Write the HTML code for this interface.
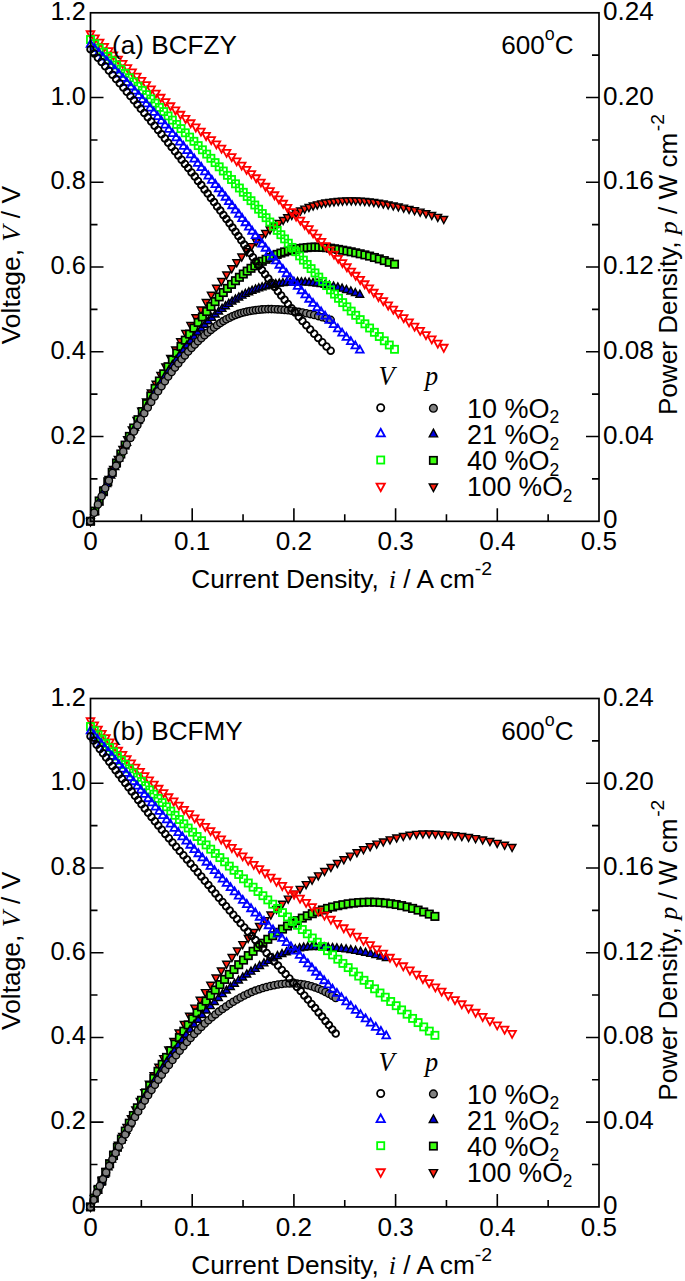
<!DOCTYPE html>
<html><head><meta charset="utf-8"><title>IV IP curves</title>
<style>html,body{margin:0;padding:0;background:#fff}svg{display:block}text{font-family:"Liberation Sans",sans-serif;fill:#000}.it{font-family:"Liberation Serif",serif;font-style:italic}</style></head><body>
<svg width="685" height="1281" viewBox="0 0 685 1281">
<rect x="0" y="0" width="685" height="1281" fill="#fff"/>
<defs>
<circle id="c" r="3.35"/>
<circle id="cf" r="3.6"/>
<path id="u" d="M0,-4.72L3.85,2.36L-3.85,2.36Z"/>
<path id="d" d="M0,4.72L3.85,-2.36L-3.85,-2.36Z"/>
<rect id="s" x="-3.55" y="-3.55" width="7.1" height="7.1"/>
<rect id="sf" x="-3.7" y="-3.7" width="7.4" height="7.4"/>
</defs>
<g id="panel0">
<g fill="#ff2010" stroke="#000" stroke-width="1.4">
<use href="#d" x="90.5" y="521.3"/><use href="#d" x="95.0" y="510.5"/><use href="#d" x="99.6" y="499.8"/><use href="#d" x="104.2" y="489.3"/><use href="#d" x="108.8" y="478.9"/><use href="#d" x="113.4" y="468.7"/><use href="#d" x="118.1" y="458.7"/><use href="#d" x="122.7" y="448.7"/><use href="#d" x="127.4" y="439.0"/><use href="#d" x="132.1" y="429.4"/><use href="#d" x="136.8" y="419.9"/><use href="#d" x="141.5" y="410.6"/><use href="#d" x="146.3" y="401.4"/><use href="#d" x="151.1" y="392.4"/><use href="#d" x="155.9" y="383.6"/><use href="#d" x="160.7" y="374.9"/><use href="#d" x="165.6" y="366.3"/><use href="#d" x="170.5" y="357.8"/><use href="#d" x="175.5" y="349.4"/><use href="#d" x="180.5" y="341.1"/><use href="#d" x="185.6" y="332.9"/><use href="#d" x="190.7" y="324.9"/><use href="#d" x="195.8" y="317.1"/><use href="#d" x="200.9" y="309.4"/><use href="#d" x="206.1" y="301.9"/><use href="#d" x="211.2" y="294.6"/><use href="#d" x="216.4" y="287.6"/><use href="#d" x="221.5" y="280.8"/><use href="#d" x="226.6" y="274.3"/><use href="#d" x="231.7" y="268.1"/><use href="#d" x="236.7" y="262.1"/><use href="#d" x="241.7" y="256.4"/><use href="#d" x="246.6" y="251.1"/><use href="#d" x="251.4" y="246.0"/><use href="#d" x="256.2" y="241.3"/><use href="#d" x="260.9" y="237.0"/><use href="#d" x="265.5" y="232.9"/><use href="#d" x="270.0" y="229.2"/><use href="#d" x="274.5" y="225.8"/><use href="#d" x="278.9" y="222.7"/><use href="#d" x="283.2" y="219.8"/><use href="#d" x="287.5" y="217.1"/><use href="#d" x="291.8" y="214.7"/><use href="#d" x="296.1" y="212.5"/><use href="#d" x="300.4" y="210.4"/><use href="#d" x="304.7" y="208.5"/><use href="#d" x="308.9" y="206.9"/><use href="#d" x="313.1" y="205.4"/><use href="#d" x="317.3" y="204.2"/><use href="#d" x="321.5" y="203.2"/><use href="#d" x="325.6" y="202.4"/><use href="#d" x="329.8" y="201.8"/><use href="#d" x="334.0" y="201.3"/><use href="#d" x="338.2" y="200.9"/><use href="#d" x="342.5" y="200.5"/><use href="#d" x="346.9" y="200.3"/><use href="#d" x="351.3" y="200.2"/><use href="#d" x="355.7" y="200.3"/><use href="#d" x="360.2" y="200.5"/><use href="#d" x="364.7" y="200.9"/><use href="#d" x="369.2" y="201.3"/><use href="#d" x="373.8" y="201.9"/><use href="#d" x="378.5" y="202.6"/><use href="#d" x="383.3" y="203.4"/><use href="#d" x="388.2" y="204.3"/><use href="#d" x="393.3" y="205.3"/><use href="#d" x="398.4" y="206.3"/><use href="#d" x="403.7" y="207.5"/><use href="#d" x="409.1" y="208.7"/><use href="#d" x="414.6" y="210.0"/><use href="#d" x="420.2" y="211.5"/><use href="#d" x="426.0" y="213.1"/><use href="#d" x="431.8" y="214.8"/><use href="#d" x="437.8" y="216.7"/><use href="#d" x="443.8" y="218.8"/>
</g>
<g fill="#3cff0e" stroke="#000" stroke-width="1.7">
<use href="#sf" x="90.5" y="521.3"/><use href="#sf" x="94.8" y="511.1"/><use href="#sf" x="99.2" y="501.1"/><use href="#sf" x="103.5" y="491.3"/><use href="#sf" x="107.8" y="481.7"/><use href="#sf" x="112.2" y="472.3"/><use href="#sf" x="116.5" y="463.0"/><use href="#sf" x="120.8" y="454.0"/><use href="#sf" x="125.1" y="445.1"/><use href="#sf" x="129.4" y="436.4"/><use href="#sf" x="133.7" y="428.0"/><use href="#sf" x="138.0" y="419.7"/><use href="#sf" x="142.3" y="411.6"/><use href="#sf" x="146.6" y="403.7"/><use href="#sf" x="150.8" y="396.0"/><use href="#sf" x="155.1" y="388.4"/><use href="#sf" x="159.4" y="381.0"/><use href="#sf" x="163.7" y="373.8"/><use href="#sf" x="168.1" y="366.7"/><use href="#sf" x="172.4" y="359.8"/><use href="#sf" x="176.7" y="353.1"/><use href="#sf" x="181.0" y="346.5"/><use href="#sf" x="185.3" y="340.2"/><use href="#sf" x="189.6" y="334.1"/><use href="#sf" x="193.9" y="328.1"/><use href="#sf" x="198.2" y="322.4"/><use href="#sf" x="202.4" y="316.9"/><use href="#sf" x="206.7" y="311.5"/><use href="#sf" x="210.9" y="306.5"/><use href="#sf" x="215.1" y="301.6"/><use href="#sf" x="219.2" y="296.9"/><use href="#sf" x="223.3" y="292.5"/><use href="#sf" x="227.4" y="288.4"/><use href="#sf" x="231.5" y="284.4"/><use href="#sf" x="235.5" y="280.7"/><use href="#sf" x="239.4" y="277.3"/><use href="#sf" x="243.3" y="274.0"/><use href="#sf" x="247.2" y="271.1"/><use href="#sf" x="251.0" y="268.3"/><use href="#sf" x="254.8" y="265.8"/><use href="#sf" x="258.6" y="263.4"/><use href="#sf" x="262.3" y="261.3"/><use href="#sf" x="266.1" y="259.3"/><use href="#sf" x="269.8" y="257.5"/><use href="#sf" x="273.5" y="255.9"/><use href="#sf" x="277.2" y="254.4"/><use href="#sf" x="280.9" y="253.1"/><use href="#sf" x="284.6" y="251.9"/><use href="#sf" x="288.3" y="250.8"/><use href="#sf" x="292.0" y="249.9"/><use href="#sf" x="295.8" y="249.2"/><use href="#sf" x="299.6" y="248.5"/><use href="#sf" x="303.4" y="248.0"/><use href="#sf" x="307.2" y="247.6"/><use href="#sf" x="311.1" y="247.2"/><use href="#sf" x="315.0" y="247.1"/><use href="#sf" x="318.8" y="247.2"/><use href="#sf" x="322.7" y="247.4"/><use href="#sf" x="326.6" y="247.7"/><use href="#sf" x="330.5" y="248.2"/><use href="#sf" x="334.5" y="248.8"/><use href="#sf" x="338.5" y="249.4"/><use href="#sf" x="342.7" y="250.2"/><use href="#sf" x="346.9" y="251.0"/><use href="#sf" x="351.2" y="251.8"/><use href="#sf" x="355.7" y="252.8"/><use href="#sf" x="360.2" y="253.8"/><use href="#sf" x="364.9" y="254.9"/><use href="#sf" x="369.6" y="256.1"/><use href="#sf" x="374.4" y="257.5"/><use href="#sf" x="379.3" y="258.9"/><use href="#sf" x="384.3" y="260.6"/><use href="#sf" x="389.3" y="262.3"/><use href="#sf" x="394.5" y="264.2"/>
</g>
<g fill="#0000dd" stroke="#000" stroke-width="1.4">
<use href="#u" x="90.5" y="521.3"/><use href="#u" x="94.6" y="511.7"/><use href="#u" x="98.7" y="502.4"/><use href="#u" x="102.8" y="493.2"/><use href="#u" x="106.9" y="484.3"/><use href="#u" x="110.9" y="475.6"/><use href="#u" x="114.9" y="467.1"/><use href="#u" x="118.9" y="458.8"/><use href="#u" x="122.9" y="450.8"/><use href="#u" x="126.8" y="443.0"/><use href="#u" x="130.8" y="435.3"/><use href="#u" x="134.7" y="428.0"/><use href="#u" x="138.5" y="420.8"/><use href="#u" x="142.3" y="413.9"/><use href="#u" x="146.2" y="407.1"/><use href="#u" x="150.0" y="400.6"/><use href="#u" x="153.7" y="394.2"/><use href="#u" x="157.5" y="388.0"/><use href="#u" x="161.2" y="382.1"/><use href="#u" x="165.0" y="376.3"/><use href="#u" x="168.7" y="370.7"/><use href="#u" x="172.4" y="365.3"/><use href="#u" x="176.1" y="360.1"/><use href="#u" x="179.7" y="355.0"/><use href="#u" x="183.4" y="350.2"/><use href="#u" x="187.0" y="345.5"/><use href="#u" x="190.6" y="341.1"/><use href="#u" x="194.2" y="336.8"/><use href="#u" x="197.7" y="332.6"/><use href="#u" x="201.3" y="328.7"/><use href="#u" x="204.8" y="324.9"/><use href="#u" x="208.3" y="321.4"/><use href="#u" x="211.8" y="318.0"/><use href="#u" x="215.3" y="314.7"/><use href="#u" x="218.7" y="311.7"/><use href="#u" x="222.1" y="309.0"/><use href="#u" x="225.5" y="306.4"/><use href="#u" x="228.8" y="304.0"/><use href="#u" x="232.1" y="301.7"/><use href="#u" x="235.4" y="299.6"/><use href="#u" x="238.8" y="297.6"/><use href="#u" x="242.1" y="295.8"/><use href="#u" x="245.4" y="294.0"/><use href="#u" x="248.8" y="292.4"/><use href="#u" x="252.1" y="290.9"/><use href="#u" x="255.5" y="289.6"/><use href="#u" x="258.8" y="288.5"/><use href="#u" x="262.1" y="287.4"/><use href="#u" x="265.5" y="286.5"/><use href="#u" x="268.9" y="285.7"/><use href="#u" x="272.3" y="285.0"/><use href="#u" x="275.8" y="284.3"/><use href="#u" x="279.3" y="283.8"/><use href="#u" x="282.9" y="283.3"/><use href="#u" x="286.5" y="282.9"/><use href="#u" x="290.2" y="282.6"/><use href="#u" x="293.9" y="282.4"/><use href="#u" x="297.6" y="282.3"/><use href="#u" x="301.4" y="282.4"/><use href="#u" x="305.2" y="282.5"/><use href="#u" x="309.1" y="282.8"/><use href="#u" x="313.0" y="283.1"/><use href="#u" x="317.0" y="283.6"/><use href="#u" x="321.1" y="284.2"/><use href="#u" x="325.1" y="284.9"/><use href="#u" x="329.3" y="285.7"/><use href="#u" x="333.5" y="286.6"/><use href="#u" x="337.8" y="287.6"/><use href="#u" x="342.1" y="288.8"/><use href="#u" x="346.4" y="290.1"/><use href="#u" x="350.8" y="291.6"/><use href="#u" x="355.3" y="293.2"/><use href="#u" x="359.8" y="294.9"/>
</g>
<g fill="#808080" stroke="#000" stroke-width="1.35">
<use href="#cf" x="90.5" y="521.3"/><use href="#cf" x="94.2" y="512.8"/><use href="#cf" x="97.9" y="504.4"/><use href="#cf" x="101.6" y="496.3"/><use href="#cf" x="105.2" y="488.3"/><use href="#cf" x="108.9" y="480.6"/><use href="#cf" x="112.5" y="473.0"/><use href="#cf" x="116.1" y="465.6"/><use href="#cf" x="119.7" y="458.4"/><use href="#cf" x="123.3" y="451.4"/><use href="#cf" x="126.8" y="444.5"/><use href="#cf" x="130.4" y="437.9"/><use href="#cf" x="133.9" y="431.5"/><use href="#cf" x="137.4" y="425.2"/><use href="#cf" x="140.8" y="419.2"/><use href="#cf" x="144.3" y="413.3"/><use href="#cf" x="147.8" y="407.5"/><use href="#cf" x="151.2" y="401.9"/><use href="#cf" x="154.6" y="396.5"/><use href="#cf" x="158.1" y="391.3"/><use href="#cf" x="161.5" y="386.2"/><use href="#cf" x="164.9" y="381.3"/><use href="#cf" x="168.2" y="376.6"/><use href="#cf" x="171.6" y="372.0"/><use href="#cf" x="175.0" y="367.6"/><use href="#cf" x="178.3" y="363.4"/><use href="#cf" x="181.6" y="359.3"/><use href="#cf" x="184.9" y="355.4"/><use href="#cf" x="188.2" y="351.6"/><use href="#cf" x="191.5" y="348.0"/><use href="#cf" x="194.8" y="344.6"/><use href="#cf" x="198.0" y="341.3"/><use href="#cf" x="201.3" y="338.2"/><use href="#cf" x="204.5" y="335.3"/><use href="#cf" x="207.7" y="332.5"/><use href="#cf" x="210.9" y="329.9"/><use href="#cf" x="214.0" y="327.5"/><use href="#cf" x="217.1" y="325.2"/><use href="#cf" x="220.3" y="323.1"/><use href="#cf" x="223.4" y="321.1"/><use href="#cf" x="226.4" y="319.3"/><use href="#cf" x="229.5" y="317.7"/><use href="#cf" x="232.5" y="316.2"/><use href="#cf" x="235.5" y="315.0"/><use href="#cf" x="238.4" y="313.9"/><use href="#cf" x="241.3" y="313.0"/><use href="#cf" x="244.2" y="312.2"/><use href="#cf" x="247.1" y="311.6"/><use href="#cf" x="250.0" y="311.0"/><use href="#cf" x="252.9" y="310.5"/><use href="#cf" x="255.9" y="310.1"/><use href="#cf" x="258.9" y="309.7"/><use href="#cf" x="262.0" y="309.4"/><use href="#cf" x="265.1" y="309.2"/><use href="#cf" x="268.3" y="309.1"/><use href="#cf" x="271.5" y="309.1"/><use href="#cf" x="274.7" y="309.2"/><use href="#cf" x="277.9" y="309.4"/><use href="#cf" x="281.2" y="309.6"/><use href="#cf" x="284.6" y="309.9"/><use href="#cf" x="288.0" y="310.3"/><use href="#cf" x="291.5" y="310.8"/><use href="#cf" x="295.1" y="311.3"/><use href="#cf" x="298.8" y="311.9"/><use href="#cf" x="302.5" y="312.5"/><use href="#cf" x="306.3" y="313.3"/><use href="#cf" x="310.2" y="314.1"/><use href="#cf" x="314.2" y="315.0"/><use href="#cf" x="318.2" y="316.1"/><use href="#cf" x="322.3" y="317.2"/><use href="#cf" x="326.5" y="318.5"/><use href="#cf" x="330.7" y="319.9"/>
</g>
<g fill="none" stroke="#ff0000" stroke-width="1.8">
<use href="#d" x="90.5" y="33.6"/><use href="#d" x="95.0" y="37.8"/><use href="#d" x="99.6" y="42.0"/><use href="#d" x="104.2" y="46.3"/><use href="#d" x="108.8" y="50.5"/><use href="#d" x="113.4" y="54.8"/><use href="#d" x="118.1" y="59.0"/><use href="#d" x="122.7" y="63.2"/><use href="#d" x="127.4" y="67.5"/><use href="#d" x="132.1" y="71.7"/><use href="#d" x="136.8" y="75.9"/><use href="#d" x="141.5" y="80.2"/><use href="#d" x="146.3" y="84.4"/><use href="#d" x="151.1" y="88.7"/><use href="#d" x="155.9" y="92.9"/><use href="#d" x="160.7" y="97.1"/><use href="#d" x="165.6" y="101.4"/><use href="#d" x="170.5" y="105.6"/><use href="#d" x="175.5" y="109.8"/><use href="#d" x="180.5" y="114.1"/><use href="#d" x="185.6" y="118.3"/><use href="#d" x="190.7" y="122.6"/><use href="#d" x="195.8" y="126.8"/><use href="#d" x="200.9" y="131.0"/><use href="#d" x="206.1" y="135.3"/><use href="#d" x="211.2" y="139.5"/><use href="#d" x="216.4" y="143.7"/><use href="#d" x="221.5" y="148.0"/><use href="#d" x="226.6" y="152.2"/><use href="#d" x="231.7" y="156.5"/><use href="#d" x="236.7" y="160.7"/><use href="#d" x="241.7" y="164.9"/><use href="#d" x="246.6" y="169.2"/><use href="#d" x="251.4" y="173.4"/><use href="#d" x="256.2" y="177.6"/><use href="#d" x="260.9" y="181.9"/><use href="#d" x="265.5" y="186.1"/><use href="#d" x="270.0" y="190.4"/><use href="#d" x="274.5" y="194.6"/><use href="#d" x="278.9" y="198.8"/><use href="#d" x="283.2" y="203.1"/><use href="#d" x="287.5" y="207.3"/><use href="#d" x="291.8" y="211.5"/><use href="#d" x="296.1" y="215.8"/><use href="#d" x="300.4" y="220.0"/><use href="#d" x="304.7" y="224.3"/><use href="#d" x="308.9" y="228.5"/><use href="#d" x="313.1" y="232.7"/><use href="#d" x="317.3" y="237.0"/><use href="#d" x="321.5" y="241.2"/><use href="#d" x="325.6" y="245.4"/><use href="#d" x="329.8" y="249.7"/><use href="#d" x="334.0" y="253.9"/><use href="#d" x="338.2" y="258.2"/><use href="#d" x="342.5" y="262.4"/><use href="#d" x="346.9" y="266.6"/><use href="#d" x="351.3" y="270.9"/><use href="#d" x="355.7" y="275.1"/><use href="#d" x="360.2" y="279.3"/><use href="#d" x="364.7" y="283.6"/><use href="#d" x="369.2" y="287.8"/><use href="#d" x="373.8" y="292.1"/><use href="#d" x="378.5" y="296.3"/><use href="#d" x="383.3" y="300.5"/><use href="#d" x="388.2" y="304.8"/><use href="#d" x="393.3" y="309.0"/><use href="#d" x="398.4" y="313.2"/><use href="#d" x="403.7" y="317.5"/><use href="#d" x="409.1" y="321.7"/><use href="#d" x="414.6" y="326.0"/><use href="#d" x="420.2" y="330.2"/><use href="#d" x="426.0" y="334.4"/><use href="#d" x="431.8" y="338.7"/><use href="#d" x="437.8" y="342.9"/><use href="#d" x="443.8" y="347.1"/>
</g>
<g fill="none" stroke="#00ff00" stroke-width="1.8">
<use href="#s" x="90.5" y="39.5"/><use href="#s" x="94.8" y="43.7"/><use href="#s" x="99.2" y="48.0"/><use href="#s" x="103.5" y="52.2"/><use href="#s" x="107.8" y="56.5"/><use href="#s" x="112.2" y="60.7"/><use href="#s" x="116.5" y="65.0"/><use href="#s" x="120.8" y="69.2"/><use href="#s" x="125.1" y="73.4"/><use href="#s" x="129.4" y="77.7"/><use href="#s" x="133.7" y="81.9"/><use href="#s" x="138.0" y="86.2"/><use href="#s" x="142.3" y="90.4"/><use href="#s" x="146.6" y="94.7"/><use href="#s" x="150.8" y="98.9"/><use href="#s" x="155.1" y="103.1"/><use href="#s" x="159.4" y="107.4"/><use href="#s" x="163.7" y="111.6"/><use href="#s" x="168.1" y="115.9"/><use href="#s" x="172.4" y="120.1"/><use href="#s" x="176.7" y="124.4"/><use href="#s" x="181.0" y="128.6"/><use href="#s" x="185.3" y="132.8"/><use href="#s" x="189.6" y="137.1"/><use href="#s" x="193.9" y="141.3"/><use href="#s" x="198.2" y="145.6"/><use href="#s" x="202.4" y="149.8"/><use href="#s" x="206.7" y="154.1"/><use href="#s" x="210.9" y="158.3"/><use href="#s" x="215.1" y="162.6"/><use href="#s" x="219.2" y="166.8"/><use href="#s" x="223.3" y="171.0"/><use href="#s" x="227.4" y="175.3"/><use href="#s" x="231.5" y="179.5"/><use href="#s" x="235.5" y="183.8"/><use href="#s" x="239.4" y="188.0"/><use href="#s" x="243.3" y="192.3"/><use href="#s" x="247.2" y="196.5"/><use href="#s" x="251.0" y="200.7"/><use href="#s" x="254.8" y="205.0"/><use href="#s" x="258.6" y="209.2"/><use href="#s" x="262.3" y="213.5"/><use href="#s" x="266.1" y="217.7"/><use href="#s" x="269.8" y="222.0"/><use href="#s" x="273.5" y="226.2"/><use href="#s" x="277.2" y="230.4"/><use href="#s" x="280.9" y="234.7"/><use href="#s" x="284.6" y="238.9"/><use href="#s" x="288.3" y="243.2"/><use href="#s" x="292.0" y="247.4"/><use href="#s" x="295.8" y="251.7"/><use href="#s" x="299.6" y="255.9"/><use href="#s" x="303.4" y="260.1"/><use href="#s" x="307.2" y="264.4"/><use href="#s" x="311.1" y="268.6"/><use href="#s" x="315.0" y="272.9"/><use href="#s" x="318.8" y="277.1"/><use href="#s" x="322.7" y="281.4"/><use href="#s" x="326.6" y="285.6"/><use href="#s" x="330.5" y="289.9"/><use href="#s" x="334.5" y="294.1"/><use href="#s" x="338.5" y="298.3"/><use href="#s" x="342.7" y="302.6"/><use href="#s" x="346.9" y="306.8"/><use href="#s" x="351.2" y="311.1"/><use href="#s" x="355.7" y="315.3"/><use href="#s" x="360.2" y="319.6"/><use href="#s" x="364.9" y="323.8"/><use href="#s" x="369.6" y="328.0"/><use href="#s" x="374.4" y="332.3"/><use href="#s" x="379.3" y="336.5"/><use href="#s" x="384.3" y="340.8"/><use href="#s" x="389.3" y="345.0"/><use href="#s" x="394.5" y="349.3"/>
</g>
<g fill="none" stroke="#0000ff" stroke-width="1.8">
<use href="#u" x="90.5" y="44.6"/><use href="#u" x="94.6" y="48.8"/><use href="#u" x="98.7" y="53.1"/><use href="#u" x="102.8" y="57.3"/><use href="#u" x="106.9" y="61.6"/><use href="#u" x="110.9" y="65.8"/><use href="#u" x="114.9" y="70.1"/><use href="#u" x="118.9" y="74.3"/><use href="#u" x="122.9" y="78.6"/><use href="#u" x="126.8" y="82.8"/><use href="#u" x="130.8" y="87.0"/><use href="#u" x="134.7" y="91.3"/><use href="#u" x="138.5" y="95.5"/><use href="#u" x="142.3" y="99.8"/><use href="#u" x="146.2" y="104.0"/><use href="#u" x="150.0" y="108.3"/><use href="#u" x="153.7" y="112.5"/><use href="#u" x="157.5" y="116.8"/><use href="#u" x="161.2" y="121.0"/><use href="#u" x="165.0" y="125.3"/><use href="#u" x="168.7" y="129.5"/><use href="#u" x="172.4" y="133.8"/><use href="#u" x="176.1" y="138.0"/><use href="#u" x="179.7" y="142.2"/><use href="#u" x="183.4" y="146.5"/><use href="#u" x="187.0" y="150.7"/><use href="#u" x="190.6" y="155.0"/><use href="#u" x="194.2" y="159.2"/><use href="#u" x="197.7" y="163.5"/><use href="#u" x="201.3" y="167.7"/><use href="#u" x="204.8" y="172.0"/><use href="#u" x="208.3" y="176.2"/><use href="#u" x="211.8" y="180.5"/><use href="#u" x="215.3" y="184.7"/><use href="#u" x="218.7" y="189.0"/><use href="#u" x="222.1" y="193.2"/><use href="#u" x="225.5" y="197.4"/><use href="#u" x="228.8" y="201.7"/><use href="#u" x="232.1" y="205.9"/><use href="#u" x="235.4" y="210.2"/><use href="#u" x="238.8" y="214.4"/><use href="#u" x="242.1" y="218.7"/><use href="#u" x="245.4" y="222.9"/><use href="#u" x="248.8" y="227.2"/><use href="#u" x="252.1" y="231.4"/><use href="#u" x="255.5" y="235.7"/><use href="#u" x="258.8" y="239.9"/><use href="#u" x="262.1" y="244.2"/><use href="#u" x="265.5" y="248.4"/><use href="#u" x="268.9" y="252.7"/><use href="#u" x="272.3" y="256.9"/><use href="#u" x="275.8" y="261.1"/><use href="#u" x="279.3" y="265.4"/><use href="#u" x="282.9" y="269.6"/><use href="#u" x="286.5" y="273.9"/><use href="#u" x="290.2" y="278.1"/><use href="#u" x="293.9" y="282.4"/><use href="#u" x="297.6" y="286.6"/><use href="#u" x="301.4" y="290.9"/><use href="#u" x="305.2" y="295.1"/><use href="#u" x="309.1" y="299.4"/><use href="#u" x="313.0" y="303.6"/><use href="#u" x="317.0" y="307.9"/><use href="#u" x="321.1" y="312.1"/><use href="#u" x="325.1" y="316.3"/><use href="#u" x="329.3" y="320.6"/><use href="#u" x="333.5" y="324.8"/><use href="#u" x="337.8" y="329.1"/><use href="#u" x="342.1" y="333.3"/><use href="#u" x="346.4" y="337.6"/><use href="#u" x="350.8" y="341.8"/><use href="#u" x="355.3" y="346.1"/><use href="#u" x="359.8" y="350.3"/>
</g>
<g fill="none" stroke="#000000" stroke-width="1.8">
<use href="#c" x="90.5" y="49.2"/><use href="#c" x="94.2" y="53.5"/><use href="#c" x="97.9" y="57.7"/><use href="#c" x="101.6" y="62.0"/><use href="#c" x="105.2" y="66.2"/><use href="#c" x="108.9" y="70.5"/><use href="#c" x="112.5" y="74.7"/><use href="#c" x="116.1" y="79.0"/><use href="#c" x="119.7" y="83.2"/><use href="#c" x="123.3" y="87.5"/><use href="#c" x="126.8" y="91.7"/><use href="#c" x="130.4" y="96.0"/><use href="#c" x="133.9" y="100.2"/><use href="#c" x="137.4" y="104.4"/><use href="#c" x="140.8" y="108.7"/><use href="#c" x="144.3" y="112.9"/><use href="#c" x="147.8" y="117.2"/><use href="#c" x="151.2" y="121.4"/><use href="#c" x="154.6" y="125.7"/><use href="#c" x="158.1" y="129.9"/><use href="#c" x="161.5" y="134.2"/><use href="#c" x="164.9" y="138.4"/><use href="#c" x="168.2" y="142.7"/><use href="#c" x="171.6" y="146.9"/><use href="#c" x="175.0" y="151.2"/><use href="#c" x="178.3" y="155.4"/><use href="#c" x="181.6" y="159.7"/><use href="#c" x="184.9" y="163.9"/><use href="#c" x="188.2" y="168.1"/><use href="#c" x="191.5" y="172.4"/><use href="#c" x="194.8" y="176.6"/><use href="#c" x="198.0" y="180.9"/><use href="#c" x="201.3" y="185.1"/><use href="#c" x="204.5" y="189.4"/><use href="#c" x="207.7" y="193.6"/><use href="#c" x="210.9" y="197.9"/><use href="#c" x="214.0" y="202.1"/><use href="#c" x="217.1" y="206.4"/><use href="#c" x="220.3" y="210.6"/><use href="#c" x="223.4" y="214.9"/><use href="#c" x="226.4" y="219.1"/><use href="#c" x="229.5" y="223.3"/><use href="#c" x="232.5" y="227.6"/><use href="#c" x="235.5" y="231.8"/><use href="#c" x="238.4" y="236.1"/><use href="#c" x="241.3" y="240.3"/><use href="#c" x="244.2" y="244.6"/><use href="#c" x="247.1" y="248.8"/><use href="#c" x="250.0" y="253.1"/><use href="#c" x="252.9" y="257.3"/><use href="#c" x="255.9" y="261.6"/><use href="#c" x="258.9" y="265.8"/><use href="#c" x="262.0" y="270.1"/><use href="#c" x="265.1" y="274.3"/><use href="#c" x="268.3" y="278.6"/><use href="#c" x="271.5" y="282.8"/><use href="#c" x="274.7" y="287.0"/><use href="#c" x="277.9" y="291.3"/><use href="#c" x="281.2" y="295.5"/><use href="#c" x="284.6" y="299.8"/><use href="#c" x="288.0" y="304.0"/><use href="#c" x="291.5" y="308.3"/><use href="#c" x="295.1" y="312.5"/><use href="#c" x="298.8" y="316.8"/><use href="#c" x="302.5" y="321.0"/><use href="#c" x="306.3" y="325.3"/><use href="#c" x="310.2" y="329.5"/><use href="#c" x="314.2" y="333.8"/><use href="#c" x="318.2" y="338.0"/><use href="#c" x="322.3" y="342.2"/><use href="#c" x="326.5" y="346.5"/><use href="#c" x="330.7" y="350.7"/>
</g>
<path d="M141.35,521.3v-7M192.20,521.3v-13M243.05,521.3v-7M293.90,521.3v-13M344.75,521.3v-7M395.60,521.3v-13M446.45,521.3v-7M497.30,521.3v-13M548.15,521.3v-7M90.5,478.92h7M599.0,478.92h-7M90.5,436.55h13M599.0,436.55h-13M90.5,394.17h7M599.0,394.17h-7M90.5,351.80h13M599.0,351.80h-13M90.5,309.42h7M599.0,309.42h-7M90.5,267.05h13M599.0,267.05h-13M90.5,224.67h7M599.0,224.67h-7M90.5,182.30h13M599.0,182.30h-13M90.5,139.93h7M599.0,139.93h-7M90.5,97.55h13M599.0,97.55h-13M90.5,55.17h7M599.0,55.17h-7" stroke="#000" stroke-width="1.6" fill="none"/>
<rect x="90.5" y="12.8" width="508.5" height="508.49999999999994" fill="none" stroke="#000" stroke-width="1.7"/>
<text transform="translate(85.80,528.30) scale(0.99,1)" font-size="25.6" text-anchor="end">0</text>
<text transform="translate(85.80,443.55) scale(0.99,1)" font-size="25.6" text-anchor="end">0.2</text>
<text transform="translate(85.80,358.80) scale(0.99,1)" font-size="25.6" text-anchor="end">0.4</text>
<text transform="translate(85.80,274.05) scale(0.99,1)" font-size="25.6" text-anchor="end">0.6</text>
<text transform="translate(85.80,189.30) scale(0.99,1)" font-size="25.6" text-anchor="end">0.8</text>
<text transform="translate(85.80,104.55) scale(0.99,1)" font-size="25.6" text-anchor="end">1.0</text>
<text transform="translate(85.80,19.80) scale(0.99,1)" font-size="25.6" text-anchor="end">1.2</text>
<text transform="translate(603.00,528.30) scale(1.02,1)" font-size="25.6" text-anchor="start">0</text>
<text transform="translate(603.00,443.55) scale(1.02,1)" font-size="25.6" text-anchor="start">0.04</text>
<text transform="translate(603.00,358.80) scale(1.02,1)" font-size="25.6" text-anchor="start">0.08</text>
<text transform="translate(603.00,274.05) scale(1.02,1)" font-size="25.6" text-anchor="start">0.12</text>
<text transform="translate(603.00,189.30) scale(1.02,1)" font-size="25.6" text-anchor="start">0.16</text>
<text transform="translate(603.00,104.55) scale(1.02,1)" font-size="25.6" text-anchor="start">0.20</text>
<text transform="translate(603.00,19.80) scale(1.02,1)" font-size="25.6" text-anchor="start">0.24</text>
<text transform="translate(90.50,550.30) scale(1.02,1)" font-size="25.6" text-anchor="middle">0</text>
<text transform="translate(192.20,550.30) scale(1.02,1)" font-size="25.6" text-anchor="middle">0.1</text>
<text transform="translate(293.90,550.30) scale(1.02,1)" font-size="25.6" text-anchor="middle">0.2</text>
<text transform="translate(395.60,550.30) scale(1.02,1)" font-size="25.6" text-anchor="middle">0.3</text>
<text transform="translate(497.30,550.30) scale(1.02,1)" font-size="25.6" text-anchor="middle">0.4</text>
<text transform="translate(599.00,550.30) scale(1.02,1)" font-size="25.6" text-anchor="middle">0.5</text>
<text transform="translate(112.10,54.10) scale(1.02,1)" font-size="25.6" text-anchor="start">(a) BCFZY</text>
<text transform="translate(501.30,53.90) scale(1.02,1)" font-size="25.6" text-anchor="start">600<tspan font-size="17.5" dy="-13.5">o</tspan><tspan dy="13.5">C</tspan></text>
<text transform="translate(191.30,587.90) scale(1.025,1)" font-size="25.6" text-anchor="start">Current Density,&#160; <tspan class="it" dx="-4.5">i</tspan> / A cm<tspan font-size="19" dy="-12.5">-2</tspan></text>
<text transform="translate(20.40,344.25) rotate(-90) scale(1.03,1)" font-size="25.6" text-anchor="start">Voltage, <tspan class="it">V</tspan> / V</text>
<text transform="translate(677.00,415.05) rotate(-90) scale(1.02,1)" font-size="25.6" text-anchor="start">Power Density, <tspan class="it">p</tspan> / W cm<tspan font-size="19" dy="-13" dx="1.5">-2</tspan></text>
<text class="it" transform="translate(378.50,385.30) scale(1.0,1)" font-size="26.3" text-anchor="start">V</text>
<text class="it" transform="translate(425.00,385.30) scale(1.0,1)" font-size="26.3" text-anchor="start">p</text>
<use href="#c" transform="translate(380.7,407.8) scale(1.08)" fill="none" stroke="#000000" stroke-width="1.67"/>
<use href="#cf" transform="translate(433.4,408.2) scale(1.08)" fill="#808080" stroke="#000" stroke-width="1.25"/>
<text transform="translate(466.90,418.10) scale(1.0,1)" font-size="27" text-anchor="start">10 %O<tspan font-size="17.5" dy="5.3">2</tspan></text>
<use href="#u" transform="translate(380.7,433.9) scale(1.08)" fill="none" stroke="#0000ff" stroke-width="1.67"/>
<use href="#u" transform="translate(433.4,434.3) scale(1.08)" fill="#0000dd" stroke="#000" stroke-width="1.30"/>
<text transform="translate(466.90,444.20) scale(1.0,1)" font-size="27" text-anchor="start">21 %O<tspan font-size="17.5" dy="5.3">2</tspan></text>
<use href="#s" transform="translate(380.7,460.0) scale(1.0)" fill="none" stroke="#00ff00" stroke-width="1.80"/>
<use href="#sf" transform="translate(433.4,460.4) scale(1.0)" fill="#3cff0e" stroke="#000" stroke-width="1.60"/>
<text transform="translate(466.90,470.30) scale(1.0,1)" font-size="27" text-anchor="start">40 %O<tspan font-size="17.5" dy="5.3">2</tspan></text>
<use href="#d" transform="translate(380.7,486.1) scale(1.08)" fill="none" stroke="#ff0000" stroke-width="1.67"/>
<use href="#d" transform="translate(433.4,486.5) scale(1.08)" fill="#ff2010" stroke="#000" stroke-width="1.30"/>
<text transform="translate(466.90,496.40) scale(0.983,1)" font-size="27" text-anchor="start">100 %O<tspan font-size="17.5" dy="5.3">2</tspan></text>
</g>
<g id="panel1">
<g fill="#ff2010" stroke="#000" stroke-width="1.4">
<use href="#d" x="90.5" y="1206.9"/><use href="#d" x="94.2" y="1198.1"/><use href="#d" x="98.0" y="1189.2"/><use href="#d" x="101.9" y="1180.3"/><use href="#d" x="105.9" y="1171.4"/><use href="#d" x="109.9" y="1162.5"/><use href="#d" x="114.0" y="1153.6"/><use href="#d" x="118.2" y="1144.6"/><use href="#d" x="122.5" y="1135.8"/><use href="#d" x="126.8" y="1126.9"/><use href="#d" x="131.2" y="1118.1"/><use href="#d" x="135.6" y="1109.3"/><use href="#d" x="140.1" y="1100.7"/><use href="#d" x="144.6" y="1092.0"/><use href="#d" x="149.2" y="1083.5"/><use href="#d" x="153.9" y="1075.1"/><use href="#d" x="158.7" y="1066.6"/><use href="#d" x="163.6" y="1058.0"/><use href="#d" x="168.6" y="1049.4"/><use href="#d" x="173.7" y="1040.8"/><use href="#d" x="178.9" y="1032.3"/><use href="#d" x="184.1" y="1023.8"/><use href="#d" x="189.4" y="1015.6"/><use href="#d" x="194.7" y="1007.5"/><use href="#d" x="200.0" y="999.6"/><use href="#d" x="205.3" y="992.0"/><use href="#d" x="210.6" y="984.6"/><use href="#d" x="215.9" y="977.4"/><use href="#d" x="221.2" y="970.4"/><use href="#d" x="226.5" y="963.6"/><use href="#d" x="231.9" y="956.9"/><use href="#d" x="237.3" y="950.4"/><use href="#d" x="242.7" y="944.0"/><use href="#d" x="248.2" y="937.8"/><use href="#d" x="253.8" y="931.8"/><use href="#d" x="259.4" y="925.8"/><use href="#d" x="265.1" y="920.0"/><use href="#d" x="270.8" y="914.4"/><use href="#d" x="276.5" y="908.9"/><use href="#d" x="282.3" y="903.6"/><use href="#d" x="288.2" y="898.5"/><use href="#d" x="294.1" y="893.5"/><use href="#d" x="300.0" y="888.7"/><use href="#d" x="306.1" y="884.0"/><use href="#d" x="312.1" y="879.5"/><use href="#d" x="318.3" y="875.2"/><use href="#d" x="324.5" y="870.9"/><use href="#d" x="330.9" y="866.8"/><use href="#d" x="337.3" y="862.9"/><use href="#d" x="343.8" y="859.1"/><use href="#d" x="350.3" y="855.5"/><use href="#d" x="356.9" y="852.1"/><use href="#d" x="363.5" y="849.0"/><use href="#d" x="370.1" y="846.1"/><use href="#d" x="376.7" y="843.5"/><use href="#d" x="383.3" y="841.3"/><use href="#d" x="390.0" y="839.2"/><use href="#d" x="396.6" y="837.4"/><use href="#d" x="403.3" y="835.8"/><use href="#d" x="409.9" y="834.6"/><use href="#d" x="416.5" y="833.7"/><use href="#d" x="422.9" y="833.3"/><use href="#d" x="429.1" y="833.3"/><use href="#d" x="435.4" y="833.6"/><use href="#d" x="441.7" y="834.0"/><use href="#d" x="448.2" y="834.5"/><use href="#d" x="455.0" y="835.1"/><use href="#d" x="461.8" y="835.9"/><use href="#d" x="468.6" y="836.8"/><use href="#d" x="475.6" y="838.0"/><use href="#d" x="482.7" y="839.3"/><use href="#d" x="489.9" y="840.9"/><use href="#d" x="497.2" y="842.7"/><use href="#d" x="504.6" y="844.6"/><use href="#d" x="512.1" y="846.8"/>
</g>
<g fill="#3cff0e" stroke="#000" stroke-width="1.7">
<use href="#sf" x="90.5" y="1206.9"/><use href="#sf" x="94.3" y="1198.1"/><use href="#sf" x="98.0" y="1189.4"/><use href="#sf" x="101.9" y="1180.8"/><use href="#sf" x="105.7" y="1172.2"/><use href="#sf" x="109.6" y="1163.8"/><use href="#sf" x="113.5" y="1155.5"/><use href="#sf" x="117.4" y="1147.3"/><use href="#sf" x="121.4" y="1139.1"/><use href="#sf" x="125.3" y="1131.1"/><use href="#sf" x="129.3" y="1123.2"/><use href="#sf" x="133.4" y="1115.5"/><use href="#sf" x="137.4" y="1107.8"/><use href="#sf" x="141.5" y="1100.3"/><use href="#sf" x="145.6" y="1092.9"/><use href="#sf" x="149.7" y="1085.6"/><use href="#sf" x="153.8" y="1078.4"/><use href="#sf" x="158.0" y="1071.3"/><use href="#sf" x="162.2" y="1064.3"/><use href="#sf" x="166.5" y="1057.4"/><use href="#sf" x="170.8" y="1050.7"/><use href="#sf" x="175.1" y="1044.1"/><use href="#sf" x="179.4" y="1037.6"/><use href="#sf" x="183.8" y="1031.2"/><use href="#sf" x="188.2" y="1024.9"/><use href="#sf" x="192.6" y="1018.8"/><use href="#sf" x="197.1" y="1012.8"/><use href="#sf" x="201.6" y="1006.9"/><use href="#sf" x="206.1" y="1001.1"/><use href="#sf" x="210.7" y="995.5"/><use href="#sf" x="215.3" y="990.0"/><use href="#sf" x="219.9" y="984.6"/><use href="#sf" x="224.6" y="979.4"/><use href="#sf" x="229.3" y="974.4"/><use href="#sf" x="234.0" y="969.5"/><use href="#sf" x="238.7" y="964.7"/><use href="#sf" x="243.5" y="960.1"/><use href="#sf" x="248.3" y="955.6"/><use href="#sf" x="253.1" y="951.3"/><use href="#sf" x="258.0" y="947.1"/><use href="#sf" x="262.9" y="943.2"/><use href="#sf" x="267.8" y="939.3"/><use href="#sf" x="272.7" y="935.7"/><use href="#sf" x="277.6" y="932.3"/><use href="#sf" x="282.5" y="929.1"/><use href="#sf" x="287.5" y="926.0"/><use href="#sf" x="292.4" y="923.2"/><use href="#sf" x="297.3" y="920.6"/><use href="#sf" x="302.3" y="918.1"/><use href="#sf" x="307.3" y="915.8"/><use href="#sf" x="312.3" y="913.7"/><use href="#sf" x="317.3" y="911.8"/><use href="#sf" x="322.4" y="910.0"/><use href="#sf" x="327.5" y="908.4"/><use href="#sf" x="332.6" y="907.0"/><use href="#sf" x="337.8" y="905.7"/><use href="#sf" x="342.9" y="904.7"/><use href="#sf" x="348.2" y="903.8"/><use href="#sf" x="353.4" y="903.1"/><use href="#sf" x="358.7" y="902.6"/><use href="#sf" x="364.0" y="902.3"/><use href="#sf" x="369.3" y="902.1"/><use href="#sf" x="374.6" y="902.2"/><use href="#sf" x="380.0" y="902.5"/><use href="#sf" x="385.3" y="903.0"/><use href="#sf" x="390.7" y="903.7"/><use href="#sf" x="396.2" y="904.5"/><use href="#sf" x="401.6" y="905.6"/><use href="#sf" x="407.1" y="906.9"/><use href="#sf" x="412.6" y="908.4"/><use href="#sf" x="418.1" y="910.1"/><use href="#sf" x="423.7" y="912.0"/><use href="#sf" x="429.3" y="914.1"/><use href="#sf" x="434.9" y="916.4"/>
</g>
<g fill="#0000dd" stroke="#000" stroke-width="1.4">
<use href="#u" x="90.5" y="1206.9"/><use href="#u" x="94.0" y="1198.8"/><use href="#u" x="97.5" y="1190.7"/><use href="#u" x="101.1" y="1182.8"/><use href="#u" x="104.6" y="1175.0"/><use href="#u" x="108.2" y="1167.4"/><use href="#u" x="111.8" y="1159.8"/><use href="#u" x="115.3" y="1152.4"/><use href="#u" x="118.9" y="1145.1"/><use href="#u" x="122.5" y="1138.0"/><use href="#u" x="126.1" y="1130.9"/><use href="#u" x="129.8" y="1124.0"/><use href="#u" x="133.4" y="1117.2"/><use href="#u" x="137.1" y="1110.6"/><use href="#u" x="140.7" y="1104.1"/><use href="#u" x="144.4" y="1097.7"/><use href="#u" x="148.0" y="1091.5"/><use href="#u" x="151.7" y="1085.4"/><use href="#u" x="155.4" y="1079.4"/><use href="#u" x="159.1" y="1073.6"/><use href="#u" x="162.8" y="1067.8"/><use href="#u" x="166.6" y="1062.1"/><use href="#u" x="170.4" y="1056.5"/><use href="#u" x="174.3" y="1051.0"/><use href="#u" x="178.2" y="1045.5"/><use href="#u" x="182.2" y="1040.2"/><use href="#u" x="186.2" y="1034.9"/><use href="#u" x="190.2" y="1029.8"/><use href="#u" x="194.2" y="1024.7"/><use href="#u" x="198.3" y="1019.9"/><use href="#u" x="202.3" y="1015.2"/><use href="#u" x="206.4" y="1010.6"/><use href="#u" x="210.4" y="1006.3"/><use href="#u" x="214.5" y="1002.1"/><use href="#u" x="218.5" y="998.1"/><use href="#u" x="222.5" y="994.3"/><use href="#u" x="226.5" y="990.7"/><use href="#u" x="230.5" y="987.2"/><use href="#u" x="234.5" y="983.9"/><use href="#u" x="238.6" y="980.7"/><use href="#u" x="242.7" y="977.6"/><use href="#u" x="246.8" y="974.6"/><use href="#u" x="251.0" y="971.8"/><use href="#u" x="255.3" y="969.0"/><use href="#u" x="259.6" y="966.2"/><use href="#u" x="264.0" y="963.5"/><use href="#u" x="268.5" y="961.0"/><use href="#u" x="273.0" y="958.5"/><use href="#u" x="277.5" y="956.3"/><use href="#u" x="282.0" y="954.2"/><use href="#u" x="286.5" y="952.4"/><use href="#u" x="290.9" y="950.8"/><use href="#u" x="295.3" y="949.5"/><use href="#u" x="299.6" y="948.5"/><use href="#u" x="303.7" y="947.8"/><use href="#u" x="307.8" y="947.3"/><use href="#u" x="311.9" y="947.1"/><use href="#u" x="315.9" y="947.0"/><use href="#u" x="320.0" y="947.2"/><use href="#u" x="324.1" y="947.4"/><use href="#u" x="328.2" y="947.7"/><use href="#u" x="332.5" y="948.1"/><use href="#u" x="336.9" y="948.5"/><use href="#u" x="341.4" y="949.0"/><use href="#u" x="346.1" y="949.5"/><use href="#u" x="350.8" y="950.2"/><use href="#u" x="355.6" y="951.0"/><use href="#u" x="360.5" y="951.9"/><use href="#u" x="365.5" y="952.9"/><use href="#u" x="370.6" y="954.0"/><use href="#u" x="375.7" y="955.3"/><use href="#u" x="380.9" y="956.7"/><use href="#u" x="386.2" y="958.3"/>
</g>
<g fill="#808080" stroke="#000" stroke-width="1.35">
<use href="#cf" x="90.5" y="1206.9"/><use href="#cf" x="93.6" y="1199.8"/><use href="#cf" x="96.7" y="1192.8"/><use href="#cf" x="99.8" y="1185.9"/><use href="#cf" x="103.0" y="1179.1"/><use href="#cf" x="106.1" y="1172.4"/><use href="#cf" x="109.3" y="1165.8"/><use href="#cf" x="112.4" y="1159.3"/><use href="#cf" x="115.6" y="1153.0"/><use href="#cf" x="118.8" y="1146.7"/><use href="#cf" x="122.0" y="1140.5"/><use href="#cf" x="125.3" y="1134.4"/><use href="#cf" x="128.5" y="1128.5"/><use href="#cf" x="131.7" y="1122.7"/><use href="#cf" x="135.0" y="1117.0"/><use href="#cf" x="138.2" y="1111.4"/><use href="#cf" x="141.5" y="1105.9"/><use href="#cf" x="144.8" y="1100.5"/><use href="#cf" x="148.1" y="1095.2"/><use href="#cf" x="151.5" y="1090.0"/><use href="#cf" x="154.9" y="1084.8"/><use href="#cf" x="158.3" y="1079.7"/><use href="#cf" x="161.8" y="1074.7"/><use href="#cf" x="165.3" y="1069.8"/><use href="#cf" x="168.9" y="1064.9"/><use href="#cf" x="172.5" y="1060.0"/><use href="#cf" x="176.1" y="1055.3"/><use href="#cf" x="179.7" y="1050.8"/><use href="#cf" x="183.4" y="1046.3"/><use href="#cf" x="187.0" y="1042.1"/><use href="#cf" x="190.6" y="1038.0"/><use href="#cf" x="194.2" y="1034.1"/><use href="#cf" x="197.8" y="1030.4"/><use href="#cf" x="201.3" y="1026.9"/><use href="#cf" x="204.8" y="1023.5"/><use href="#cf" x="208.4" y="1020.3"/><use href="#cf" x="211.9" y="1017.3"/><use href="#cf" x="215.4" y="1014.4"/><use href="#cf" x="218.9" y="1011.6"/><use href="#cf" x="222.5" y="1009.0"/><use href="#cf" x="226.1" y="1006.4"/><use href="#cf" x="229.7" y="1004.0"/><use href="#cf" x="233.3" y="1001.7"/><use href="#cf" x="237.0" y="999.5"/><use href="#cf" x="240.6" y="997.5"/><use href="#cf" x="244.3" y="995.5"/><use href="#cf" x="248.0" y="993.8"/><use href="#cf" x="251.7" y="992.1"/><use href="#cf" x="255.4" y="990.6"/><use href="#cf" x="259.2" y="989.2"/><use href="#cf" x="262.9" y="988.0"/><use href="#cf" x="266.6" y="987.0"/><use href="#cf" x="270.4" y="986.0"/><use href="#cf" x="274.2" y="985.2"/><use href="#cf" x="278.0" y="984.5"/><use href="#cf" x="281.8" y="984.0"/><use href="#cf" x="285.6" y="983.6"/><use href="#cf" x="289.4" y="983.4"/><use href="#cf" x="293.2" y="983.4"/><use href="#cf" x="297.0" y="983.6"/><use href="#cf" x="300.7" y="983.9"/><use href="#cf" x="304.3" y="984.5"/><use href="#cf" x="307.9" y="985.3"/><use href="#cf" x="311.5" y="986.3"/><use href="#cf" x="315.1" y="987.4"/><use href="#cf" x="318.6" y="988.8"/><use href="#cf" x="322.1" y="990.3"/><use href="#cf" x="325.5" y="992.0"/><use href="#cf" x="328.9" y="993.8"/><use href="#cf" x="332.3" y="995.8"/><use href="#cf" x="335.7" y="998.0"/>
</g>
<g fill="none" stroke="#ff0000" stroke-width="1.8">
<use href="#d" x="90.5" y="720.5"/><use href="#d" x="94.2" y="724.8"/><use href="#d" x="98.0" y="729.0"/><use href="#d" x="101.9" y="733.2"/><use href="#d" x="105.9" y="737.4"/><use href="#d" x="109.9" y="741.7"/><use href="#d" x="114.0" y="745.9"/><use href="#d" x="118.2" y="750.1"/><use href="#d" x="122.5" y="754.3"/><use href="#d" x="126.8" y="758.6"/><use href="#d" x="131.2" y="762.8"/><use href="#d" x="135.6" y="767.0"/><use href="#d" x="140.1" y="771.2"/><use href="#d" x="144.6" y="775.5"/><use href="#d" x="149.2" y="779.7"/><use href="#d" x="153.9" y="783.9"/><use href="#d" x="158.7" y="788.1"/><use href="#d" x="163.6" y="792.4"/><use href="#d" x="168.6" y="796.6"/><use href="#d" x="173.7" y="800.8"/><use href="#d" x="178.9" y="805.0"/><use href="#d" x="184.1" y="809.3"/><use href="#d" x="189.4" y="813.5"/><use href="#d" x="194.7" y="817.7"/><use href="#d" x="200.0" y="821.9"/><use href="#d" x="205.3" y="826.2"/><use href="#d" x="210.6" y="830.4"/><use href="#d" x="215.9" y="834.6"/><use href="#d" x="221.2" y="838.8"/><use href="#d" x="226.5" y="843.1"/><use href="#d" x="231.9" y="847.3"/><use href="#d" x="237.3" y="851.5"/><use href="#d" x="242.7" y="855.7"/><use href="#d" x="248.2" y="860.0"/><use href="#d" x="253.8" y="864.2"/><use href="#d" x="259.4" y="868.4"/><use href="#d" x="265.1" y="872.6"/><use href="#d" x="270.8" y="876.9"/><use href="#d" x="276.5" y="881.1"/><use href="#d" x="282.3" y="885.3"/><use href="#d" x="288.2" y="889.5"/><use href="#d" x="294.1" y="893.8"/><use href="#d" x="300.0" y="898.0"/><use href="#d" x="306.1" y="902.2"/><use href="#d" x="312.1" y="906.4"/><use href="#d" x="318.3" y="910.7"/><use href="#d" x="324.5" y="914.9"/><use href="#d" x="330.9" y="919.1"/><use href="#d" x="337.3" y="923.3"/><use href="#d" x="343.8" y="927.6"/><use href="#d" x="350.3" y="931.8"/><use href="#d" x="356.9" y="936.0"/><use href="#d" x="363.5" y="940.2"/><use href="#d" x="370.1" y="944.5"/><use href="#d" x="376.7" y="948.7"/><use href="#d" x="383.3" y="952.9"/><use href="#d" x="390.0" y="957.1"/><use href="#d" x="396.6" y="961.4"/><use href="#d" x="403.3" y="965.6"/><use href="#d" x="409.9" y="969.8"/><use href="#d" x="416.5" y="974.0"/><use href="#d" x="422.9" y="978.3"/><use href="#d" x="429.1" y="982.5"/><use href="#d" x="435.4" y="986.7"/><use href="#d" x="441.7" y="990.9"/><use href="#d" x="448.2" y="995.2"/><use href="#d" x="455.0" y="999.4"/><use href="#d" x="461.8" y="1003.6"/><use href="#d" x="468.6" y="1007.8"/><use href="#d" x="475.6" y="1012.1"/><use href="#d" x="482.7" y="1016.3"/><use href="#d" x="489.9" y="1020.5"/><use href="#d" x="497.2" y="1024.7"/><use href="#d" x="504.6" y="1029.0"/><use href="#d" x="512.1" y="1033.2"/>
</g>
<g fill="none" stroke="#00ff00" stroke-width="1.8">
<use href="#s" x="90.5" y="726.5"/><use href="#s" x="94.3" y="730.7"/><use href="#s" x="98.0" y="734.9"/><use href="#s" x="101.9" y="739.2"/><use href="#s" x="105.7" y="743.4"/><use href="#s" x="109.6" y="747.6"/><use href="#s" x="113.5" y="751.8"/><use href="#s" x="117.4" y="756.1"/><use href="#s" x="121.4" y="760.3"/><use href="#s" x="125.3" y="764.5"/><use href="#s" x="129.3" y="768.8"/><use href="#s" x="133.4" y="773.0"/><use href="#s" x="137.4" y="777.2"/><use href="#s" x="141.5" y="781.5"/><use href="#s" x="145.6" y="785.7"/><use href="#s" x="149.7" y="789.9"/><use href="#s" x="153.8" y="794.2"/><use href="#s" x="158.0" y="798.4"/><use href="#s" x="162.2" y="802.6"/><use href="#s" x="166.5" y="806.8"/><use href="#s" x="170.8" y="811.1"/><use href="#s" x="175.1" y="815.3"/><use href="#s" x="179.4" y="819.5"/><use href="#s" x="183.8" y="823.8"/><use href="#s" x="188.2" y="828.0"/><use href="#s" x="192.6" y="832.2"/><use href="#s" x="197.1" y="836.5"/><use href="#s" x="201.6" y="840.7"/><use href="#s" x="206.1" y="844.9"/><use href="#s" x="210.7" y="849.2"/><use href="#s" x="215.3" y="853.4"/><use href="#s" x="219.9" y="857.6"/><use href="#s" x="224.6" y="861.8"/><use href="#s" x="229.3" y="866.1"/><use href="#s" x="234.0" y="870.3"/><use href="#s" x="238.7" y="874.5"/><use href="#s" x="243.5" y="878.8"/><use href="#s" x="248.3" y="883.0"/><use href="#s" x="253.1" y="887.2"/><use href="#s" x="258.0" y="891.5"/><use href="#s" x="262.9" y="895.7"/><use href="#s" x="267.8" y="899.9"/><use href="#s" x="272.7" y="904.2"/><use href="#s" x="277.6" y="908.4"/><use href="#s" x="282.5" y="912.6"/><use href="#s" x="287.5" y="916.9"/><use href="#s" x="292.4" y="921.1"/><use href="#s" x="297.3" y="925.3"/><use href="#s" x="302.3" y="929.5"/><use href="#s" x="307.3" y="933.8"/><use href="#s" x="312.3" y="938.0"/><use href="#s" x="317.3" y="942.2"/><use href="#s" x="322.4" y="946.5"/><use href="#s" x="327.5" y="950.7"/><use href="#s" x="332.6" y="954.9"/><use href="#s" x="337.8" y="959.2"/><use href="#s" x="342.9" y="963.4"/><use href="#s" x="348.2" y="967.6"/><use href="#s" x="353.4" y="971.9"/><use href="#s" x="358.7" y="976.1"/><use href="#s" x="364.0" y="980.3"/><use href="#s" x="369.3" y="984.5"/><use href="#s" x="374.6" y="988.8"/><use href="#s" x="380.0" y="993.0"/><use href="#s" x="385.3" y="997.2"/><use href="#s" x="390.7" y="1001.5"/><use href="#s" x="396.2" y="1005.7"/><use href="#s" x="401.6" y="1009.9"/><use href="#s" x="407.1" y="1014.2"/><use href="#s" x="412.6" y="1018.4"/><use href="#s" x="418.1" y="1022.6"/><use href="#s" x="423.7" y="1026.9"/><use href="#s" x="429.3" y="1031.1"/><use href="#s" x="434.9" y="1035.3"/>
</g>
<g fill="none" stroke="#0000ff" stroke-width="1.8">
<use href="#u" x="90.5" y="731.1"/><use href="#u" x="94.0" y="735.4"/><use href="#u" x="97.5" y="739.6"/><use href="#u" x="101.1" y="743.8"/><use href="#u" x="104.6" y="748.1"/><use href="#u" x="108.2" y="752.3"/><use href="#u" x="111.8" y="756.5"/><use href="#u" x="115.3" y="760.8"/><use href="#u" x="118.9" y="765.0"/><use href="#u" x="122.5" y="769.2"/><use href="#u" x="126.1" y="773.5"/><use href="#u" x="129.8" y="777.7"/><use href="#u" x="133.4" y="781.9"/><use href="#u" x="137.1" y="786.2"/><use href="#u" x="140.7" y="790.4"/><use href="#u" x="144.4" y="794.6"/><use href="#u" x="148.0" y="798.9"/><use href="#u" x="151.7" y="803.1"/><use href="#u" x="155.4" y="807.3"/><use href="#u" x="159.1" y="811.6"/><use href="#u" x="162.8" y="815.8"/><use href="#u" x="166.6" y="820.0"/><use href="#u" x="170.4" y="824.3"/><use href="#u" x="174.3" y="828.5"/><use href="#u" x="178.2" y="832.7"/><use href="#u" x="182.2" y="837.0"/><use href="#u" x="186.2" y="841.2"/><use href="#u" x="190.2" y="845.4"/><use href="#u" x="194.2" y="849.7"/><use href="#u" x="198.3" y="853.9"/><use href="#u" x="202.3" y="858.1"/><use href="#u" x="206.4" y="862.4"/><use href="#u" x="210.4" y="866.6"/><use href="#u" x="214.5" y="870.8"/><use href="#u" x="218.5" y="875.1"/><use href="#u" x="222.5" y="879.3"/><use href="#u" x="226.5" y="883.5"/><use href="#u" x="230.5" y="887.8"/><use href="#u" x="234.5" y="892.0"/><use href="#u" x="238.6" y="896.2"/><use href="#u" x="242.7" y="900.5"/><use href="#u" x="246.8" y="904.7"/><use href="#u" x="251.0" y="908.9"/><use href="#u" x="255.3" y="913.2"/><use href="#u" x="259.6" y="917.4"/><use href="#u" x="264.0" y="921.6"/><use href="#u" x="268.5" y="925.9"/><use href="#u" x="273.0" y="930.1"/><use href="#u" x="277.5" y="934.3"/><use href="#u" x="282.0" y="938.6"/><use href="#u" x="286.5" y="942.8"/><use href="#u" x="290.9" y="947.0"/><use href="#u" x="295.3" y="951.3"/><use href="#u" x="299.6" y="955.5"/><use href="#u" x="303.7" y="959.7"/><use href="#u" x="307.8" y="964.0"/><use href="#u" x="311.9" y="968.2"/><use href="#u" x="315.9" y="972.4"/><use href="#u" x="320.0" y="976.7"/><use href="#u" x="324.1" y="980.9"/><use href="#u" x="328.2" y="985.1"/><use href="#u" x="332.5" y="989.4"/><use href="#u" x="336.9" y="993.6"/><use href="#u" x="341.4" y="997.8"/><use href="#u" x="346.1" y="1002.1"/><use href="#u" x="350.8" y="1006.3"/><use href="#u" x="355.6" y="1010.5"/><use href="#u" x="360.5" y="1014.8"/><use href="#u" x="365.5" y="1019.0"/><use href="#u" x="370.6" y="1023.2"/><use href="#u" x="375.7" y="1027.5"/><use href="#u" x="380.9" y="1031.7"/><use href="#u" x="386.2" y="1036.0"/>
</g>
<g fill="none" stroke="#000000" stroke-width="1.8">
<use href="#c" x="90.5" y="736.2"/><use href="#c" x="93.6" y="740.5"/><use href="#c" x="96.7" y="744.7"/><use href="#c" x="99.8" y="749.0"/><use href="#c" x="103.0" y="753.2"/><use href="#c" x="106.1" y="757.5"/><use href="#c" x="109.3" y="761.7"/><use href="#c" x="112.4" y="765.9"/><use href="#c" x="115.6" y="770.2"/><use href="#c" x="118.8" y="774.4"/><use href="#c" x="122.0" y="778.7"/><use href="#c" x="125.3" y="782.9"/><use href="#c" x="128.5" y="787.2"/><use href="#c" x="131.7" y="791.4"/><use href="#c" x="135.0" y="795.7"/><use href="#c" x="138.2" y="799.9"/><use href="#c" x="141.5" y="804.2"/><use href="#c" x="144.8" y="808.4"/><use href="#c" x="148.1" y="812.7"/><use href="#c" x="151.5" y="816.9"/><use href="#c" x="154.9" y="821.2"/><use href="#c" x="158.3" y="825.4"/><use href="#c" x="161.8" y="829.7"/><use href="#c" x="165.3" y="833.9"/><use href="#c" x="168.9" y="838.2"/><use href="#c" x="172.5" y="842.4"/><use href="#c" x="176.1" y="846.7"/><use href="#c" x="179.7" y="850.9"/><use href="#c" x="183.4" y="855.2"/><use href="#c" x="187.0" y="859.4"/><use href="#c" x="190.6" y="863.7"/><use href="#c" x="194.2" y="867.9"/><use href="#c" x="197.8" y="872.2"/><use href="#c" x="201.3" y="876.4"/><use href="#c" x="204.8" y="880.7"/><use href="#c" x="208.4" y="884.9"/><use href="#c" x="211.9" y="889.2"/><use href="#c" x="215.4" y="893.4"/><use href="#c" x="218.9" y="897.7"/><use href="#c" x="222.5" y="901.9"/><use href="#c" x="226.1" y="906.2"/><use href="#c" x="229.7" y="910.4"/><use href="#c" x="233.3" y="914.7"/><use href="#c" x="237.0" y="918.9"/><use href="#c" x="240.6" y="923.2"/><use href="#c" x="244.3" y="927.4"/><use href="#c" x="248.0" y="931.6"/><use href="#c" x="251.7" y="935.9"/><use href="#c" x="255.4" y="940.1"/><use href="#c" x="259.2" y="944.4"/><use href="#c" x="262.9" y="948.6"/><use href="#c" x="266.6" y="952.9"/><use href="#c" x="270.4" y="957.1"/><use href="#c" x="274.2" y="961.4"/><use href="#c" x="278.0" y="965.6"/><use href="#c" x="281.8" y="969.9"/><use href="#c" x="285.6" y="974.1"/><use href="#c" x="289.4" y="978.4"/><use href="#c" x="293.2" y="982.6"/><use href="#c" x="297.0" y="986.9"/><use href="#c" x="300.7" y="991.1"/><use href="#c" x="304.3" y="995.4"/><use href="#c" x="307.9" y="999.6"/><use href="#c" x="311.5" y="1003.9"/><use href="#c" x="315.1" y="1008.1"/><use href="#c" x="318.6" y="1012.4"/><use href="#c" x="322.1" y="1016.6"/><use href="#c" x="325.5" y="1020.9"/><use href="#c" x="328.9" y="1025.1"/><use href="#c" x="332.3" y="1029.4"/><use href="#c" x="335.7" y="1033.6"/>
</g>
<path d="M141.35,1206.9v-7M192.20,1206.9v-13M243.05,1206.9v-7M293.90,1206.9v-13M344.75,1206.9v-7M395.60,1206.9v-13M446.45,1206.9v-7M497.30,1206.9v-13M548.15,1206.9v-7M90.5,1164.53h7M599.0,1164.53h-7M90.5,1122.17h13M599.0,1122.17h-13M90.5,1079.80h7M599.0,1079.80h-7M90.5,1037.43h13M599.0,1037.43h-13M90.5,995.07h7M599.0,995.07h-7M90.5,952.70h13M599.0,952.70h-13M90.5,910.33h7M599.0,910.33h-7M90.5,867.97h13M599.0,867.97h-13M90.5,825.60h7M599.0,825.60h-7M90.5,783.23h13M599.0,783.23h-13M90.5,740.87h7M599.0,740.87h-7" stroke="#000" stroke-width="1.6" fill="none"/>
<rect x="90.5" y="698.5" width="508.5" height="508.4000000000001" fill="none" stroke="#000" stroke-width="1.7"/>
<text transform="translate(85.80,1213.90) scale(0.99,1)" font-size="25.6" text-anchor="end">0</text>
<text transform="translate(85.80,1129.17) scale(0.99,1)" font-size="25.6" text-anchor="end">0.2</text>
<text transform="translate(85.80,1044.43) scale(0.99,1)" font-size="25.6" text-anchor="end">0.4</text>
<text transform="translate(85.80,959.70) scale(0.99,1)" font-size="25.6" text-anchor="end">0.6</text>
<text transform="translate(85.80,874.97) scale(0.99,1)" font-size="25.6" text-anchor="end">0.8</text>
<text transform="translate(85.80,790.23) scale(0.99,1)" font-size="25.6" text-anchor="end">1.0</text>
<text transform="translate(85.80,705.50) scale(0.99,1)" font-size="25.6" text-anchor="end">1.2</text>
<text transform="translate(603.00,1213.90) scale(1.02,1)" font-size="25.6" text-anchor="start">0</text>
<text transform="translate(603.00,1129.17) scale(1.02,1)" font-size="25.6" text-anchor="start">0.04</text>
<text transform="translate(603.00,1044.43) scale(1.02,1)" font-size="25.6" text-anchor="start">0.08</text>
<text transform="translate(603.00,959.70) scale(1.02,1)" font-size="25.6" text-anchor="start">0.12</text>
<text transform="translate(603.00,874.97) scale(1.02,1)" font-size="25.6" text-anchor="start">0.16</text>
<text transform="translate(603.00,790.23) scale(1.02,1)" font-size="25.6" text-anchor="start">0.20</text>
<text transform="translate(603.00,705.50) scale(1.02,1)" font-size="25.6" text-anchor="start">0.24</text>
<text transform="translate(90.50,1235.90) scale(1.02,1)" font-size="25.6" text-anchor="middle">0</text>
<text transform="translate(192.20,1235.90) scale(1.02,1)" font-size="25.6" text-anchor="middle">0.1</text>
<text transform="translate(293.90,1235.90) scale(1.02,1)" font-size="25.6" text-anchor="middle">0.2</text>
<text transform="translate(395.60,1235.90) scale(1.02,1)" font-size="25.6" text-anchor="middle">0.3</text>
<text transform="translate(497.30,1235.90) scale(1.02,1)" font-size="25.6" text-anchor="middle">0.4</text>
<text transform="translate(599.00,1235.90) scale(1.02,1)" font-size="25.6" text-anchor="middle">0.5</text>
<text transform="translate(112.10,739.80) scale(1.02,1)" font-size="25.6" text-anchor="start">(b) BCFMY</text>
<text transform="translate(501.30,739.60) scale(1.02,1)" font-size="25.6" text-anchor="start">600<tspan font-size="17.5" dy="-13.5">o</tspan><tspan dy="13.5">C</tspan></text>
<text transform="translate(191.30,1273.50) scale(1.025,1)" font-size="25.6" text-anchor="start">Current Density,&#160; <tspan class="it" dx="-4.5">i</tspan> / A cm<tspan font-size="19" dy="-12.5">-2</tspan></text>
<text transform="translate(20.40,1029.90) rotate(-90) scale(1.03,1)" font-size="25.6" text-anchor="start">Voltage, <tspan class="it">V</tspan> / V</text>
<text transform="translate(677.00,1100.70) rotate(-90) scale(1.02,1)" font-size="25.6" text-anchor="start">Power Density, <tspan class="it">p</tspan> / W cm<tspan font-size="19" dy="-13" dx="1.5">-2</tspan></text>
<text class="it" transform="translate(378.50,1071.00) scale(1.0,1)" font-size="26.3" text-anchor="start">V</text>
<text class="it" transform="translate(425.00,1071.00) scale(1.0,1)" font-size="26.3" text-anchor="start">p</text>
<use href="#c" transform="translate(380.7,1093.5) scale(1.08)" fill="none" stroke="#000000" stroke-width="1.67"/>
<use href="#cf" transform="translate(433.4,1093.9) scale(1.08)" fill="#808080" stroke="#000" stroke-width="1.25"/>
<text transform="translate(466.90,1103.80) scale(1.0,1)" font-size="27" text-anchor="start">10 %O<tspan font-size="17.5" dy="5.3">2</tspan></text>
<use href="#u" transform="translate(380.7,1119.6) scale(1.08)" fill="none" stroke="#0000ff" stroke-width="1.67"/>
<use href="#u" transform="translate(433.4,1120.0) scale(1.08)" fill="#0000dd" stroke="#000" stroke-width="1.30"/>
<text transform="translate(466.90,1129.90) scale(1.0,1)" font-size="27" text-anchor="start">21 %O<tspan font-size="17.5" dy="5.3">2</tspan></text>
<use href="#s" transform="translate(380.7,1145.7) scale(1.0)" fill="none" stroke="#00ff00" stroke-width="1.80"/>
<use href="#sf" transform="translate(433.4,1146.1) scale(1.0)" fill="#3cff0e" stroke="#000" stroke-width="1.60"/>
<text transform="translate(466.90,1156.00) scale(1.0,1)" font-size="27" text-anchor="start">40 %O<tspan font-size="17.5" dy="5.3">2</tspan></text>
<use href="#d" transform="translate(380.7,1171.8) scale(1.08)" fill="none" stroke="#ff0000" stroke-width="1.67"/>
<use href="#d" transform="translate(433.4,1172.2) scale(1.08)" fill="#ff2010" stroke="#000" stroke-width="1.30"/>
<text transform="translate(466.90,1182.10) scale(0.983,1)" font-size="27" text-anchor="start">100 %O<tspan font-size="17.5" dy="5.3">2</tspan></text>
</g>
</svg></body></html>
